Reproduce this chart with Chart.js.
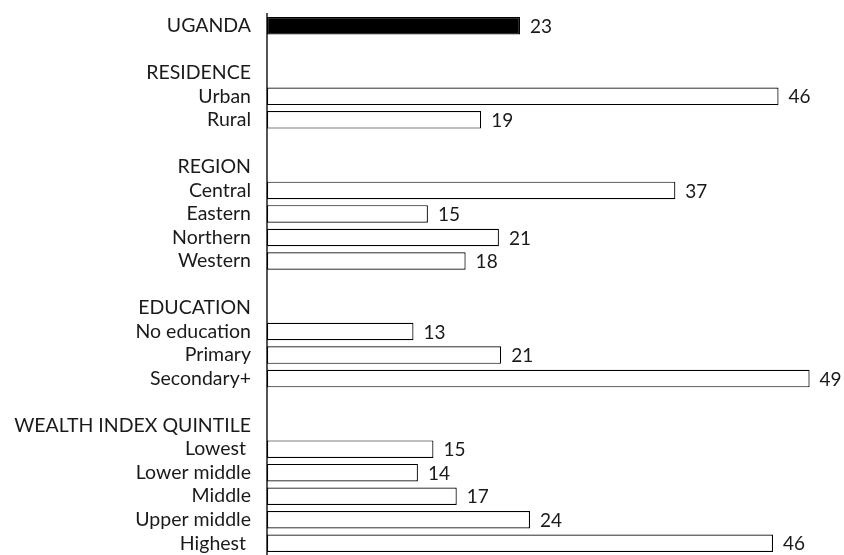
<!DOCTYPE html>
<html><head><meta charset="utf-8">
<script src="https://cdn.jsdelivr.net/npm/chart.js@4/dist/chart.umd.min.js"></script>
<style>html,body{margin:0;padding:0;background:#fff;overflow:hidden}#wrap{width:844px;height:555px;position:relative}</style>
</head><body><div id="wrap"><canvas id="c" width="844" height="555"></canvas></div>
<script>
const categories = ['UGANDA','','RESIDENCE','Urban','Rural','','REGION','Central','Eastern','Northern','Western','','EDUCATION','No education','Primary','Secondary+','','WEALTH INDEX QUINTILE','Lowest ','Lower middle','Middle','Upper middle','Highest '];
const values = [22.8,null,null,46.1,19.3,null,null,36.8,14.5,20.9,17.9,null,null,13.2,21.1,48.9,null,null,15.0,13.6,17.1,23.7,45.6];
const fills = categories.map((c,i)=> i===0 ? '#000000' : '#ffffff');
const FONT = 'Lato';

const valueLabels = {
  id:'valueLabels',
  afterDatasetsDraw(chart){
    const ctx = chart.ctx;
    const meta = chart.getDatasetMeta(0);
    ctx.save();
    ctx.font = '19px ' + FONT;
    ctx.fillStyle = '#1a1a1a';
    ctx.textBaseline = 'middle';
    ctx.textAlign = 'left';
    meta.data.forEach((bar,i)=>{
      const v = values[i];
      if (v === null) return;
      ctx.fillText(String(Math.round(v)), bar.x + 10, bar.y + 1);
    });
    ctx.restore();
  }
};

new Chart(document.getElementById('c'), {
  type:'bar',
  data:{labels:categories, datasets:[{data:values, backgroundColor:fills, borderColor:'#000', borderWidth:1.2, borderSkipped:false, barPercentage:0.745, categoryPercentage:1}]},
  options:{
    indexAxis:'y', responsive:false, animation:false,
    layout:{padding:{top:14,bottom:0,left:0,right:0}},
    plugins:{legend:{display:false}, tooltip:{enabled:false}},
    scales:{
      x:{display:false, min:0, max:52},
      y:{
        afterFit(s){ s.width = 267; s.paddingTop = 0; s.paddingBottom = 0; },
        grid:{display:false, drawTicks:false},
        border:{display:true, color:'#555', width:2},
        ticks:{autoSkip:false, padding:16, color:'#1a1a1a', font:{family:FONT, size:19.5}}
      }
    }
  },
  plugins:[valueLabels]
});
</script></body></html>
